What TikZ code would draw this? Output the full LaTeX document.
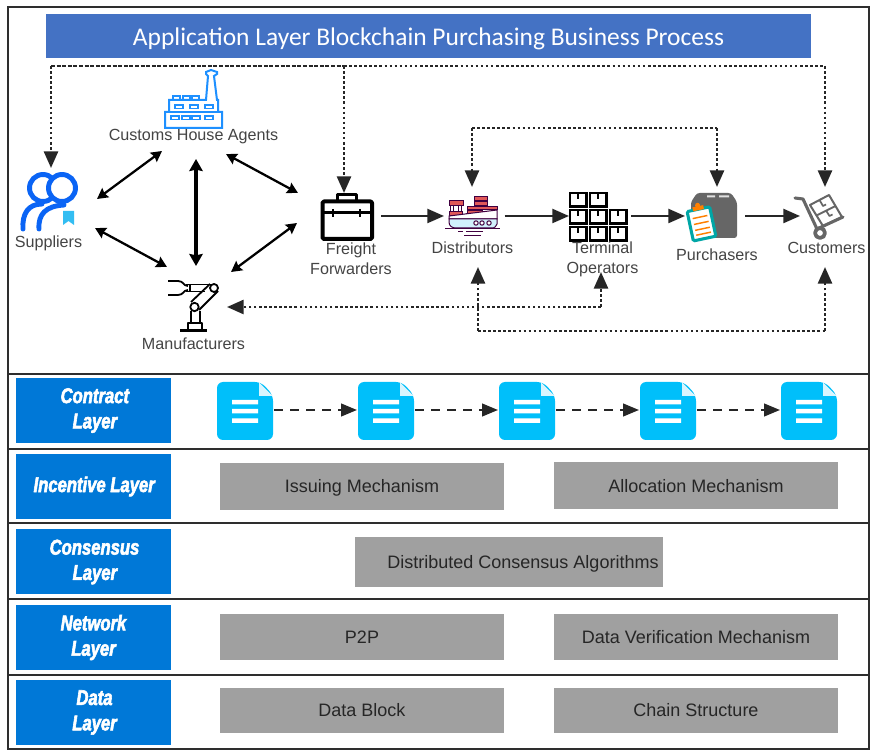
\documentclass[tikz,border=0pt]{standalone}
\usepackage{fontspec}
\setmainfont{Liberation Sans}
\newfontfamily\titlefont{Carlito}
\newfontfamily\layerfont[FakeStretch=0.78,FakeBold=2.6]{Liberation Sans Bold Italic}
\usetikzlibrary{arrows.meta,calc}
\definecolor{frameC}{HTML}{2E2E2E}
\definecolor{titleC}{HTML}{4472C4}
\definecolor{layerC}{HTML}{0078D7}
\definecolor{greyC}{HTML}{A0A0A0}
\definecolor{docC}{HTML}{00BFFA}
\definecolor{lineC}{HTML}{262626}
\definecolor{txtC}{HTML}{444444}
\definecolor{factC}{HTML}{1E90FF}
\definecolor{supC}{HTML}{0A64F5}
\definecolor{truckC}{HTML}{666666}
\newcommand{\mechtext}[1]{\raisebox{0pt}[.72em][0pt]{#1}}
\tikzset{
  layerbox/.style={fill=layerC,minimum width=116.25pt,minimum height=48.75pt,inner sep=0pt,align=center,text=white,font=\layerfont\fontsize{16}{19}\selectfont},
  mech/.style={fill=greyC,inner sep=0pt,text=black!85,font=\fontsize{13.5}{16}\selectfont},
  lbl/.style={text=txtC,font=\fontsize{12.1}{14.8}\selectfont,align=center,inner sep=0pt},
  doub/.style={{Stealth[length=8pt,width=8.5pt,inset=1pt]}-{Stealth[length=8pt,width=8.5pt,inset=1pt]},line width=1.7pt,draw=black},
  doubthick/.style={{Stealth[length=9pt,width=10pt,inset=1pt]}-{Stealth[length=9pt,width=10pt,inset=1pt]},line width=2.6pt,draw=black},
  flow/.style={-{Triangle[length=12.5pt,width=10.5pt]},line width=1.7pt,draw=lineC},
  dots/.style={-{Triangle[length=12.5pt,width=10.5pt]},line width=2pt,draw=lineC,dash pattern=on 1.9pt off 1.9pt},
  dotsplain/.style={line width=2pt,draw=lineC,dash pattern=on 1.9pt off 1.9pt},
  densedots/.style={line width=2pt,draw=lineC,dash pattern=on 3pt off 1.2pt},
  dashflow/.style={-{Triangle[length=12pt,width=9.5pt]},line width=1.7pt,draw=lineC,dash pattern=on 7pt off 5pt},
}
\begin{document}
\begin{tikzpicture}[x=0.75pt,y=-0.75pt]
\useasboundingbox (0,0) rectangle (879,755);
\fill[white] (0,0) rectangle (879,755);

% title
\node[fill=titleC,minimum width=573.75pt,minimum height=33pt,inner sep=0pt,text=white,font=\titlefont\fontsize{19.1}{22}\selectfont] (title) at (428.5,36) {\mechtext{Application Layer Blockchain Purchasing Business Process}};

% anchors for the connectors
\coordinate (cSup) at (51,168);
\coordinate (cSupTop) at (51,66);
\coordinate (cFre) at (344,193);
\coordinate (cFreTop) at (344,66);
\coordinate (cCus) at (825,187);
\coordinate (cCusTop) at (825,66);
\coordinate (cDis) at (472,187);
\coordinate (cDisTop) at (472,128);
\coordinate (cPur) at (717,187);
\coordinate (cPurTop) at (717,128);
\coordinate (cMan) at (227,307);
\coordinate (cTerC) at (601,307);
\coordinate (cTer) at (601,272);
\coordinate (cDisB) at (478,267);
\coordinate (cDisBb) at (478,331);
\coordinate (cCusBb) at (825,331);
\coordinate (cCusB) at (825,267);

% factory
\begin{scope}[line width=1.5pt,draw=factC,factC,line join=miter]
\draw (165,128) -- (165,112) -- (169,112) -- (169,100) -- (206,100) -- (208,76) -- (206,74) -- (206,72) -- (211,70) -- (217,72) -- (217,74) -- (214,76) -- (217,100) -- (218,100) -- (218,112) -- (222,112) -- (222,128) -- cycle;
\draw (173,100) -- (173,96) -- (180,96) -- (180,100) (183,100) -- (183,96) -- (190,96) -- (190,100) (192,100) -- (192,96) -- (199,96) -- (199,100);
\foreach \x in {175,190,205}{\draw[line width=1.1pt] (\x,105) rectangle +(8,3.5);}
\foreach \x in {171,182,192,205}{\draw[line width=1.1pt] (\x,116) rectangle +(8,3.5);}
\draw (165,112) -- (222,112);
\end{scope}

% suppliers
\begin{scope}[line width=3.7pt,draw=supC,line cap=round]
\draw[supC] (43,188) circle (13.5);
\draw[supC,fill=white] (62,188) circle (13.5);
\draw[supC] (23,229) .. controls (22,214) and (28,204) .. (42,204);
\draw[supC] (39,229) .. controls (38,214) and (46,206) .. (64,205);
\fill[cyan!80!white,draw=none] (63,211) -- (74,211) -- (74,225) -- (68.5,221) -- (63,225) -- cycle;
\end{scope}

% briefcase
\begin{scope}[line join=round,draw=black]
\draw[line width=3pt,rounded corners=1pt] (322.5,201.5) rectangle (372,239);
\draw[line width=2.2pt] (323,212.5) -- (372,212.5);
\draw[line width=2.4pt] (337.5,201) -- (337.5,194.5) -- (356.5,194.5) -- (356.5,201);
\draw[line width=2pt] (333,209) -- (333,217) (360,209) -- (360,217);
\end{scope}

% robot arm
\begin{scope}[line width=1.35pt,draw=black,line join=round]
\draw (168,281) -- (178,281) .. controls (184,281) and (183,286) .. (188,286);
\draw (168,295) -- (178,295) .. controls (184,295) and (183,290) .. (188,290);
\draw (186,284.5) -- (190,284.5) -- (190,291.5) -- (186,291.5) (190,284.5) -- (211,284.5) (190,291.5) -- (205,291.5);
\draw (191,302) -- (210,284) (199,310) -- (218,291);
\draw[fill=white] (214,288) circle (4);
\draw[fill=white] (194.5,307) circle (4.2);
\draw (191,311) -- (191,323) (200,311) -- (200,323);
\draw (188,323) rectangle (202,330);
\draw[line width=1.7pt] (180,330.5) -- (207,330.5);
\end{scope}

% ship
\begin{scope}[line width=.75pt,draw=violet!50!black]
\fill[red!65!gray!70!pink,draw=violet!50!black] (449,201) rectangle (463,206) (449,212) rectangle (462,215.5) (474,197) rectangle (487,201) (474,201.5) rectangle (487,205.5) (467,206.5) rectangle (497,210) (467,211) rectangle (482,214) (466,214) rectangle (481,217);
\draw[fill=white] (450,206) rectangle (453,212) (458,206) rectangle (461,212);
\draw[fill=white] (449,216) -- (497,210) -- (497,219) -- (449,219) -- cycle;
\draw[fill=cyan!18!white] (449,219) -- (497,219) -- (497,224) .. controls (495,229) and (492,228) .. (490,228) -- (456,228) .. controls (452,228) and (449,226) .. (449,222) -- cycle;
\foreach \x in {476,482,489}{\draw[fill=white] (\x,223) circle (2.2);}
\draw (445,228.5) -- (500,228.5) (458,232) -- (463,232) (466,232) -- (483,232) (464,236) -- (481,236);
\end{scope}

% terminal boxes
\foreach \x/\y in {570/193,590/193,570/210,590/210,610/210,570/227,590/227,610/227}{
  \draw[line width=1.9pt,draw=black] (\x,\y) rectangle +(16.5,13.5);
  \draw[line width=1.3pt,draw=black] (\x+8.25,\y) -- +(0,6);
}

% purchasers
\fill[truckC,rounded corners=2pt] (691,202) -- (697,193) -- (731,193) -- (737,202) -- (737,238) -- (691,238) -- cycle;
\fill[white!80!truckC] (707,195.5) rectangle (715,197.5) (719,195.5) rectangle (729,197.5);
\begin{scope}[rotate around={12:(701,224)}]
\draw[fill=white,draw=teal!70!cyan,line width=2.3pt,rounded corners=1pt] (690,209) rectangle (713,239);
\foreach \y in {217,223,229,234}{\draw[orange,line width=1.1pt] (694,\y) -- (709,\y);}
\fill[orange] (696,206) rectangle (707,210);
\fill[orange] (701.5,205) circle (2.5);
\end{scope}

% customers
\begin{scope}[draw=truckC,line width=2.3pt,line join=round]
\draw[line cap=round] (795,198) -- (803,199) -- (817,229) -- (843,217);
\draw[line width=2.8pt,fill=white] (820,233) circle (5);
\draw[line width=1.5pt] (810,205) -- (829,195) -- (842,217) -- (823,226) -- cycle;
\draw[line width=1.5pt] (816.5,215.5) -- (835.5,206);
\draw[line width=1.3pt] (819.5,200) -- (823,206) -- (826,204.5) (826,210.5) -- (829.5,216) -- (832.5,214.5);
\end{scope}

% labels in the upper panel
\node[lbl] (suppliers) at (48.5,243.5) {Suppliers};
\node[lbl] (customs) at (193.5,136.5) {Customs House Agents};
\node[lbl] (manufacturers) at (193.5,343.5) {Manufacturers};
\node[lbl] (freight) at (351,258.5) {Freight\\Forwarders};
\node[lbl] (distributors) at (472.5,247.5) {Distributors};
\node[lbl] (terminal) at (602.5,259) {Terminal\\Operators};
\node[lbl] (purchasers) at (717,254.5) {Purchasers};
\node[lbl] (customers) at (826.5,247.5) {Customers};

% doubles
\coordinate (d1a) at (97,199); \coordinate (d1b) at (162,151);
\coordinate (d2a) at (298,193); \coordinate (d2b) at (226,154);
\coordinate (d3a) at (196,159); \coordinate (d3b) at (196,266);
\coordinate (d4a) at (95,228); \coordinate (d4b) at (167,267);
\coordinate (d5a) at (297,223); \coordinate (d5b) at (231,272);
\draw[doub] (d1a) -- (d1b);
\draw[doub] (d2a) -- (d2b);
\draw[doubthick] (d3a) -- (d3b);
\draw[doub] (d4a) -- (d4b);
\draw[doub] (d5a) -- (d5b);

% flows
\foreach \a/\b [count=\i] in {381/444,504.5/569,631/685,745/800}{
  \coordinate (fa\i) at (\a,216); \coordinate (fb\i) at (\b,216);
  \draw[flow] (fa\i) -- (fb\i);
}

% dotted
\draw[dots] (cSupTop) -- (cSup);
\draw[dots] (cFreTop) -- (cFre);
\draw[densedots] (cSupTop) -- (cFreTop);
\draw[dotsplain] (cFreTop) -- (cCusTop);
\draw[dots] (cCusTop) -- (cCus);
\draw[dots] (cDisTop) -- (cDis);
\draw[dots] (cPurTop) -- (cPur);
\draw[dotsplain] (cDisTop) -- (cPurTop);
\draw[dots] (cTerC) -- (cMan);
\draw[dots] (cTerC) -- (cTer);
\draw[dots] (cDisBb) -- (cDisB);
\draw[dotsplain] (cDisBb) -- (cCusBb);
\draw[dots] (cCusBb) -- (cCusB);

% frame
\draw[line width=1.9pt,draw=frameC] (8,7) rectangle (869,749);
\foreach \y [count=\i] in {374,449,523,599,675}{
  \coordinate (sl\i) at (8,\y); \coordinate (sr\i) at (869,\y);
  \draw[line width=1.9pt,draw=frameC] (sl\i) -- (sr\i);
}

% layers
\node[layerbox] (contract) at (93.5,410.5) {\hspace*{2pt}Contract\\\hspace*{2pt}Layer};
\node[layerbox] (incentive) at (93.5,486.5) {\hspace*{1pt}Incentive Layer};
\node[layerbox] (consensus) at (93.5,562) {\hspace*{1.5pt}Consensus\\\hspace*{2pt}Layer};
\node[layerbox] (network) at (93.5,637.5) {Network\\Layer};
\node[layerbox] (data) at (93.5,712.5) {\hspace*{1.5pt}Data\\\hspace*{1.5pt}Layer};

% docs
\foreach \x [count=\i] in {217,358,499,640,781}{
  \fill[docC,rounded corners=4.5pt] (\x,382) -- (\x+44,382) -- (\x+56,395) -- (\x+56,440) -- (\x,440) -- cycle;
  \fill[white!85!docC] (\x+42,382.5) -- (\x+55.5,396) -- (\x+42,396) -- cycle;
  \fill[white] (\x+15,400) rectangle +(26,4.5) (\x+15,409) rectangle +(26,4.5) (\x+15,418.5) rectangle +(26,4.5);
  \coordinate (doc\i) at (\x,410);
  \coordinate (docr\i) at (\x+57,410);
}
\coordinate (dtip1) at (357,410);
\coordinate (dtip2) at (498,410);
\coordinate (dtip3) at (639,410);
\coordinate (dtip4) at (780,410);
\draw[dashflow] (docr1) -- (dtip1);
\draw[dashflow] (docr2) -- (dtip2);
\draw[dashflow] (docr3) -- (dtip3);
\draw[dashflow] (docr4) -- (dtip4);

% mechanism boxes
\node[mech,minimum width=213pt,minimum height=35.25pt] (issuing) at (362,486.5) {\mechtext{Issuing Mechanism}};
\node[mech,minimum width=213pt,minimum height=35.25pt] (allocation) at (696,486) {\mechtext{Allocation Mechanism}};
\node[mech,minimum width=231pt,minimum height=37.5pt] (consalg) at (509,562) {\hspace*{21pt}\mechtext{Distributed Consensus Algorithms}};
\node[mech,minimum width=213pt,minimum height=34.5pt] (ptp) at (362,637) {\mechtext{P2P}};
\node[mech,minimum width=213pt,minimum height=34.5pt] (verif) at (696,637) {\mechtext{Data Verification Mechanism}};
\node[mech,minimum width=213pt,minimum height=33.75pt] (block) at (362,710.5) {\mechtext{Data Block}};
\node[mech,minimum width=213pt,minimum height=33.75pt] (chain) at (696,710.5) {\mechtext{Chain Structure}};
\end{tikzpicture}
\end{document}
